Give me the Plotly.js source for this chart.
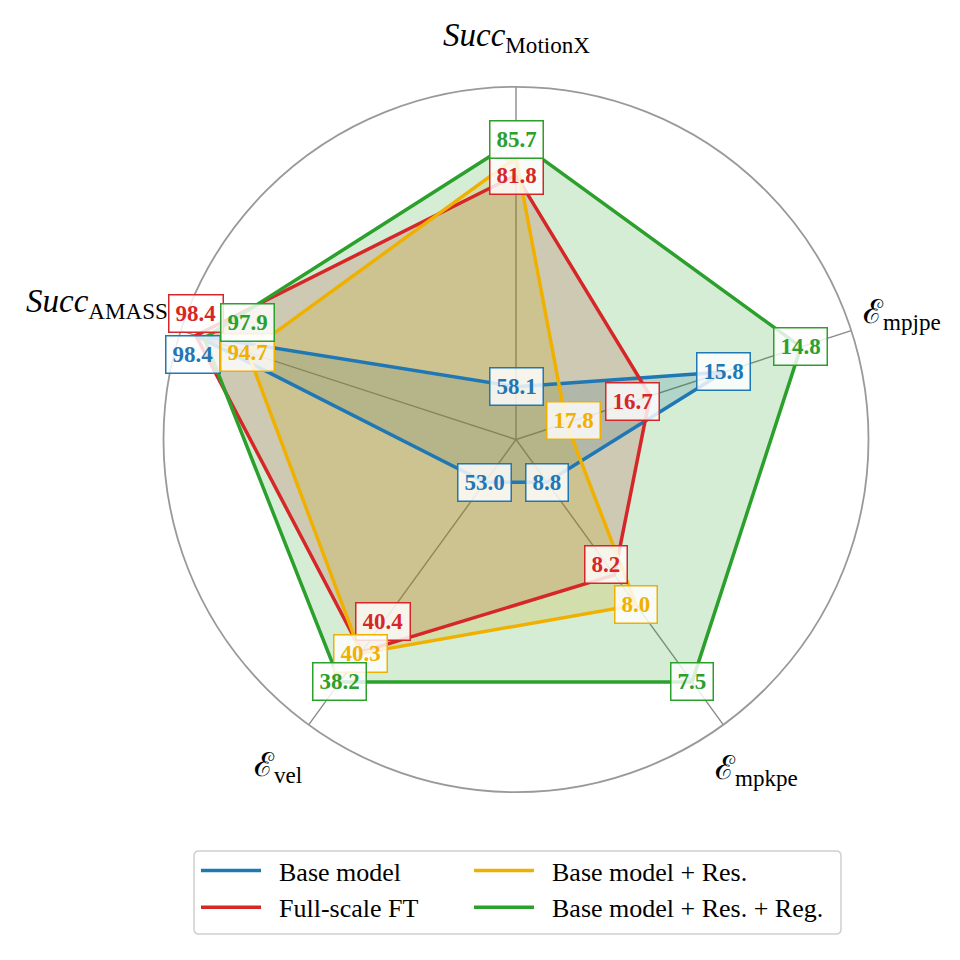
<!DOCTYPE html>
<html>
<head>
<meta charset="utf-8">
<script src="https://cdn.plot.ly/plotly-3.0.1.min.js"></script>
<style>html,body{margin:0;padding:0;background:#fff}</style>
</head>
<body>
<div id="chart" style="width:960px;height:960px"></div>
<script>
// axes of the radar, clockwise from the top
var axisKeys = ['MotionX', 'mpjpe', 'mpkpe', 'vel', 'AMASS'];
var axisLabels = ['<i>Succ</i><sub>MotionX</sub>', 'ℰ<sub>mpjpe</sub>', 'ℰ<sub>mpkpe</sub>', 'ℰ<sub>vel</sub>', '<i>Succ</i><sub>AMASS</sub>'];

var seriesNames = ['Base model', 'Full-scale FT', 'Base model + Res.', 'Base model + Res. + Reg.'];

// printed metric values per axis
var baseVals = [58.1, 15.8, 8.8, 53.0, 98.4];
var ftVals   = [81.8, 16.7, 8.2, 40.4, 98.4];
var resVals  = [83.7, 17.8, 8.0, 40.3, 94.7];
var regVals  = [85.7, 14.8, 7.5, 38.2, 97.9];

// normalised score (0 = centre, 1 = rim) each point is drawn at
var baseScore = [0.15, 0.62, 0.15, 0.15, 0.955];
var ftScore   = [0.75, 0.40, 0.475, 0.745, 0.955];
var resScore  = [0.80, 0.15, 0.58, 0.75, 0.80];
var regScore  = [0.85, 0.85, 0.85, 0.85, 0.93];

var colors = ['#1f77b4', '#d62728', '#f0b000', '#2ca02c'];
var fills = ['rgba(31,119,180,0.2)', 'rgba(214,39,40,0.2)', 'rgba(240,176,0,0.2)', 'rgba(44,160,44,0.2)'];

// pixel nudges for value boxes that would overlap
var nudges = [
    [[0, 0], [0, 0], [0, 0], [0, 0], [-3, -19]],
    [[0, 0], [-18, -6], [-8, 10], [21, 30], [0, 22]],
    [[0, 17.6], [7, 3], [0, 0], [0, 0], [0, 0]],
    [[0, 0], [0, 0], [0, 0], [0, 0], [43, 16]]
];

var allVals = [baseVals, ftVals, resVals, regVals];
var allScores = [baseScore, ftScore, resScore, regScore];

var serif = 'Liberation Serif, Times New Roman, serif';

// radar circle on the page: centre and radius in px
var cx = 516, cy = 439.5, R = 352.5;
var polX = [(cx - R) / 960, (cx + R) / 960];
var polY = [1 - (cy + R) / 960, 1 - (cy - R) / 960];

// hidden cartesian axes laid over the radar (1 unit = radius) for the text boxes
var xr = [-1.4, 1.25], yr = [-1.2, 1.24];
var carX = [(cx + xr[0] * R) / 960, (cx + xr[1] * R) / 960];
var carY = [1 - (cy - yr[0] * R) / 960, 1 - (cy - yr[1] * R) / 960];

function closed(arr) { return arr.concat([arr[0]]); }

var data = [{
    type: 'scatter', x: [0], y: [0], mode: 'markers',
    marker: { opacity: 0 }, showlegend: false, hoverinfo: 'skip'
}];

// fills first, outlines on top
allScores.forEach(function(sc, s) {
    data.push({
        type: 'scatterpolar',
        r: closed(sc),
        theta: closed(axisKeys),
        mode: 'none',
        fill: 'toself',
        fillcolor: fills[s],
        showlegend: false,
        hoverinfo: 'skip'
    });
});
allScores.forEach(function(sc, s) {
    data.push({
        type: 'scatterpolar',
        r: closed(sc),
        theta: closed(axisKeys),
        mode: 'lines',
        line: { color: colors[s], width: 3.5 },
        name: '\u00a0\u00a0' + seriesNames[s],
        legend: s < 2 ? 'legend' : 'legend2'
    });
});

function angleOf(i) { return (90 - 72 * i) * Math.PI / 180; }

var annotations = [];

// axis titles
var titleR = [1.14, 1.15, 1.16, 1.15, 1.25];
axisLabels.forEach(function(lab, i) {
    annotations.push({
        xref: 'x', yref: 'y',
        x: titleR[i] * Math.cos(angleOf(i)),
        y: titleR[i] * Math.sin(angleOf(i)),
        text: lab, showarrow: false,
        xanchor: 'center', yanchor: 'middle',
        font: { family: serif, size: 33, color: '#000' }
    });
});

// value boxes
allVals.forEach(function(vals, s) {
    vals.forEach(function(v, i) {
        var r = allScores[s][i];
        annotations.push({
            xref: 'x', yref: 'y',
            x: r * Math.cos(angleOf(i)),
            y: r * Math.sin(angleOf(i)),
            xshift: nudges[s][i][0], yshift: nudges[s][i][1],
            text: '<b>' + v.toFixed(1) + '</b>',
            showarrow: false,
            font: { family: serif, size: 23, color: colors[s] },
            bgcolor: 'rgba(255,255,255,0.82)',
            bordercolor: colors[s], borderwidth: 1.5, borderpad: 6,
            height: 24
        });
    });
});

// rounded legend frame
var fx0 = 194 / 960, fx1 = 841 / 960, fy0 = 1 - 934 / 960, fy1 = 1 - 851 / 960, rc = 5 / 960;
var framePath = 'M' + (fx0 + rc) + ',' + fy0 + ' L' + (fx1 - rc) + ',' + fy0 +
    ' Q' + fx1 + ',' + fy0 + ' ' + fx1 + ',' + (fy0 + rc) +
    ' L' + fx1 + ',' + (fy1 - rc) + ' Q' + fx1 + ',' + fy1 + ' ' + (fx1 - rc) + ',' + fy1 +
    ' L' + (fx0 + rc) + ',' + fy1 + ' Q' + fx0 + ',' + fy1 + ' ' + fx0 + ',' + (fy1 - rc) +
    ' L' + fx0 + ',' + (fy0 + rc) + ' Q' + fx0 + ',' + fy0 + ' ' + (fx0 + rc) + ',' + fy0 + ' Z';

var legendFont = { family: serif, size: 26, color: '#000' };

var layout = {
    width: 960, height: 960,
    margin: { l: 0, r: 0, t: 0, b: 0 },
    paper_bgcolor: '#fff',
    font: { family: serif, color: '#000' },
    xaxis: { domain: carX, range: xr, visible: false, fixedrange: true },
    yaxis: { domain: carY, range: yr, visible: false, fixedrange: true },
    polar: {
        domain: { x: polX, y: polY },
        bgcolor: 'rgba(0,0,0,0)',
        radialaxis: { range: [0, 1], visible: false },
        angularaxis: {
            type: 'category', rotation: 90, direction: 'clockwise',
            showticklabels: false, ticks: '',
            showline: true, linecolor: '#999', linewidth: 1.8,
            showgrid: true, gridcolor: '#8a8a8a', gridwidth: 1.4
        }
    },
    legend: {
        x: 196 / 960, y: 1 - 847 / 960, xanchor: 'left', yanchor: 'top',
        bgcolor: 'rgba(0,0,0,0)', itemwidth: 60,
        font: legendFont, tracegroupgap: 0
    },
    legend2: {
        x: 469 / 960, y: 1 - 847 / 960, xanchor: 'left', yanchor: 'top',
        bgcolor: 'rgba(0,0,0,0)', itemwidth: 60,
        font: legendFont, tracegroupgap: 0
    },
    shapes: [{
        type: 'path', xref: 'paper', yref: 'paper', path: framePath,
        line: { color: '#cfcfcf', width: 1.5 }
    }],
    annotations: annotations,
    showlegend: true
};

Plotly.newPlot('chart', data, layout, { staticPlot: true });
</script>
</body>
</html>
